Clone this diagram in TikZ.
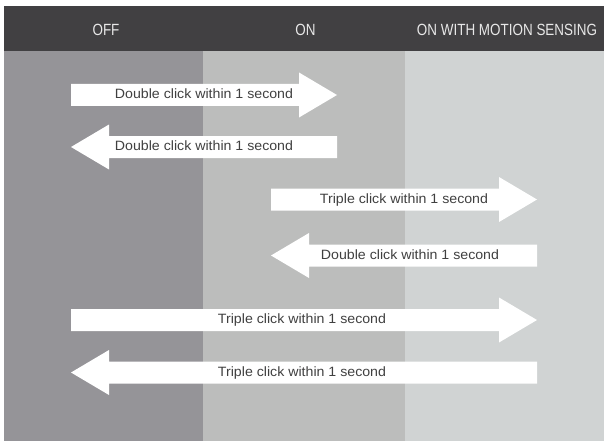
\documentclass[tikz,border=0pt]{standalone}
\usepackage{fontspec}
\setmainfont{Liberation Sans}
\newfontfamily\hdrfont[FakeStretch=0.83]{Liberation Sans}
\newfontfamily\lblfont[FakeStretch=1.05]{Liberation Sans}
\definecolor{colA}{HTML}{959498}
\definecolor{colB}{HTML}{BCBDBC}
\definecolor{colC}{HTML}{D0D3D3}
\definecolor{hdr}{HTML}{414042}
\definecolor{hdrtext}{HTML}{E8E8E8}
\definecolor{lbltext}{HTML}{404040}
\tikzset{
  hdrlabel/.style={anchor=base, inner sep=0pt, text=hdrtext, font=\hdrfont\fontsize{16.2}{18}\selectfont},
  arrlabel/.style={anchor=base, inner sep=0pt, text=lbltext, font=\lblfont\fontsize{13.5}{15}\selectfont},
  bigarrow/.style={fill=white, draw=none},
}
% right arrow: #1 left x, #2 tip x, #3 centre y
\newcommand{\rarr}[3]{%
  \fill[white] (#1,#3-11) -- (#2-38,#3-11) -- (#2-38,#3-22.5) -- (#2,#3)
    -- (#2-38,#3+22.5) -- (#2-38,#3+11) -- (#1,#3+11) -- cycle;}
% left arrow: #1 tip x, #2 right x, #3 centre y
\newcommand{\larr}[3]{%
  \fill[white] (#2,#3-11) -- (#1+38,#3-11) -- (#1+38,#3-22.5) -- (#1,#3)
    -- (#1+38,#3+22.5) -- (#1+38,#3+11) -- (#2,#3+11) -- cycle;}
\begin{document}
\begin{tikzpicture}[x=1pt,y=-1pt]
\useasboundingbox (0,0) rectangle (604,441);
\fill[white] (0,0) rectangle (604,441);
% columns
\fill[colA] (4,51) rectangle (203,441);
\fill[colB] (203,51) rectangle (405,441);
\fill[colC] (405,51) rectangle (604,441);
% header
\fill[hdr] (4,6) rectangle (604,51);
\node[hdrlabel] (off) at (106,35.7) {OFF};
\node[hdrlabel] (on) at (305.5,35.7) {ON};
\node[hdrlabel] (onms) at (507,35.7) {ON WITH MOTION SENSING};
% arrows
\rarr{71}{337}{95}
\larr{71}{337}{147}
\rarr{271}{537}{199.5}
\larr{271}{537}{255.5}
\rarr{71}{537}{320}
\larr{71}{537}{372.5}
% labels
\node[arrlabel] (t1) at (204,98.6) {Double click within 1 second};
\node[arrlabel] (t2) at (204,150.6) {Double click within 1 second};
\node[arrlabel] (t3) at (404,203.1) {Triple click within 1 second};
\node[arrlabel] (t4) at (410,259.1) {Double click within 1 second};
\node[arrlabel] (t5) at (302,323.6) {Triple click within 1 second};
\node[arrlabel] (t6) at (302,376.1) {Triple click within 1 second};
\end{tikzpicture}
\end{document}
